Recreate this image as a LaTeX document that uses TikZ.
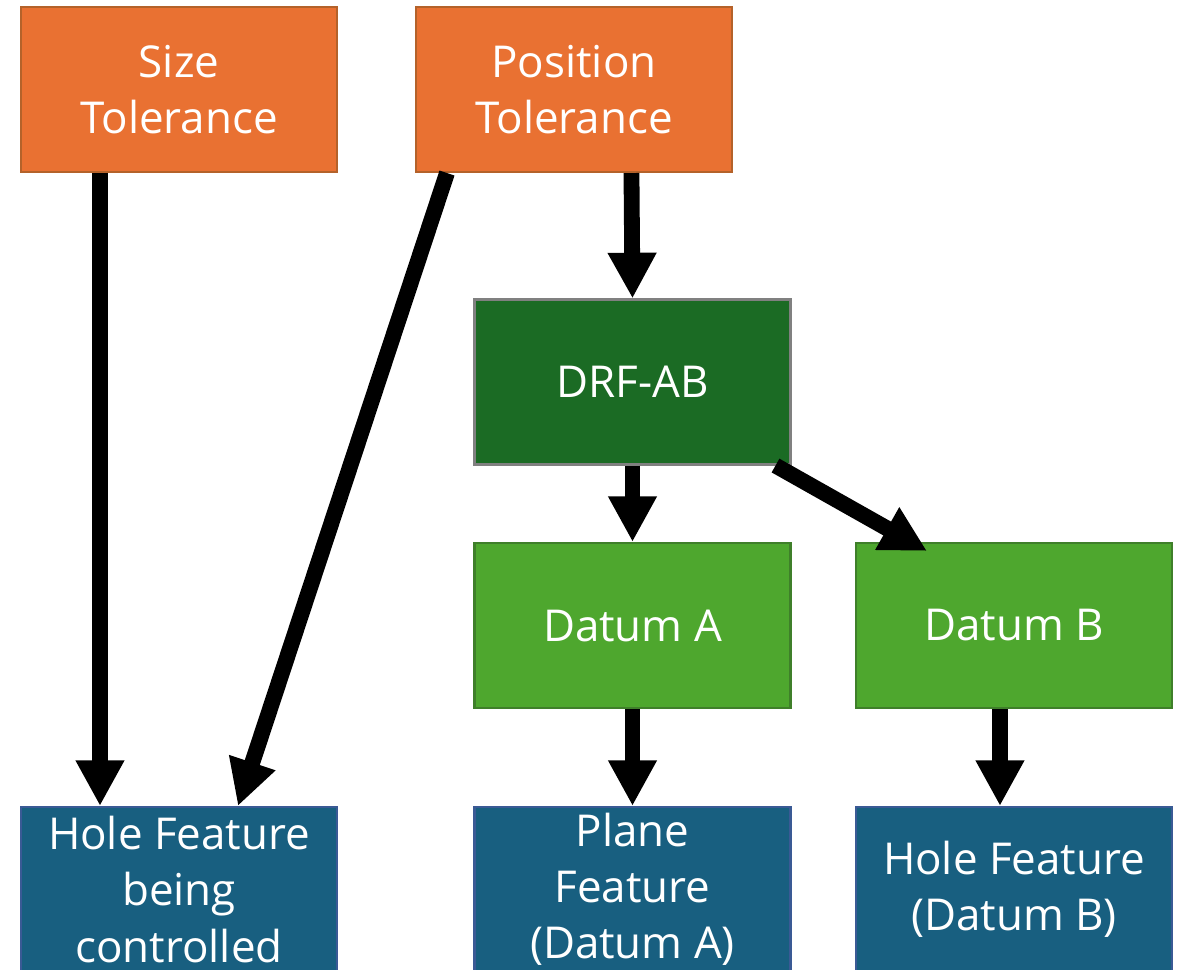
\documentclass[tikz,border=0pt]{standalone}
\usepackage{fontspec}
\setmainfont{Open Sans}
\usetikzlibrary{arrows.meta,calc}

\definecolor{tolfill}{HTML}{E97132}
\definecolor{toledge}{HTML}{B4622A}
\definecolor{drffill}{HTML}{1B6B24}
\definecolor{datfill}{HTML}{4EA72E}
\definecolor{datedge}{HTML}{3F7F2A}
\definecolor{featfill}{HTML}{185F80}
\definecolor{featedge}{HTML}{3A5A95}

\tikzset{
	box/.style={rectangle, minimum width=6.32cm, minimum height=3.3cm, line width=1.2pt,
		text=white, align=center, font=\fontsize{25}{32}\selectfont},
	tolbox/.style={box, fill=tolfill, draw=toledge},
	drfbox/.style={box, fill=drffill, draw=gray},
	datbox/.style={box, fill=datfill, draw=datedge},
	featbox/.style={box, fill=featfill, draw=featedge},
	bigarrow/.style={line width=9pt, -{Triangle[length=26pt,width=26pt]}},
}

\begin{document}
\begin{tikzpicture}[x=0.02cm,y=-0.02cm]
		\useasboundingbox (0,0) rectangle (1181,970);
		% top row
		\node[tolbox] (size) at (179,89.5) {Size\\Tolerance};
		\node[tolbox] (pos) at (574,89.5) {Position\\Tolerance};
		% reference frame and datums
		\node[drfbox] (drf) at (632.5,382) {DRF-AB};
		\node[datbox] (data) at (632.5,625.5) {Datum A};
		\node[datbox] (datb) at (1014,625.5) {Datum B};
		% features
		\node[featbox] (hole) at (179,889.5) {Hole Feature\\being\\controlled};
		\node[featbox] (plane) at (632.5,889.5) {Plane\\Feature\\(Datum A)};
		\node[featbox] (holeb) at (1014,889.5) {Hole Feature\\(Datum B)};
		% arrows
		\draw[bigarrow] ($(size.south west)+(80,0)$) -- ($(hole.north west)+(80,0)$);
		\draw[bigarrow] ($(pos.south west)+(32,0)$) -- ($(hole.north west)+(218,0)$);
		\draw[bigarrow] ($(pos.south west)+(216.5,0)$) -- (drf.north);
		\draw[bigarrow] (drf.south) -- (data.north);
		\draw[bigarrow] ($(drf.south east)+(-16,0)$) -- ($(datb.north west)+(72,9)$);
		\draw[bigarrow] (data.south) -- (plane.north);
		\draw[bigarrow] ($(datb.south west)+(145,0)$) -- ($(holeb.north west)+(145,0)$);
	\end{tikzpicture}
\end{document}
